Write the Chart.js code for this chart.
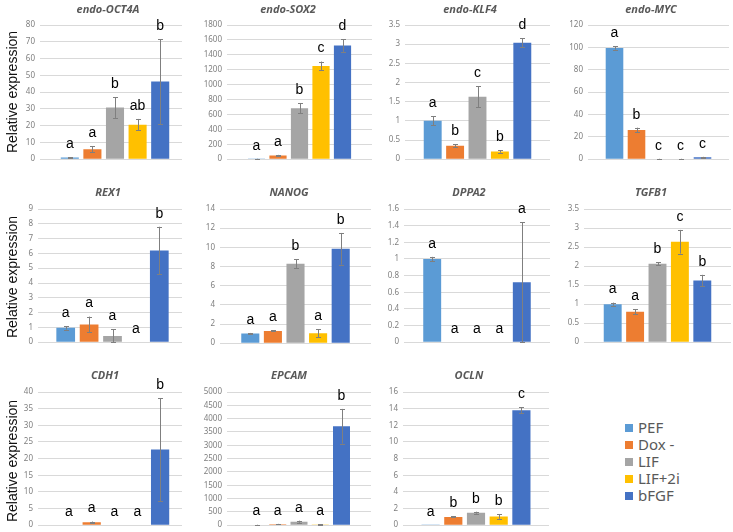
<!DOCTYPE html>
<html><head><meta charset="utf-8">
<script src="https://cdn.jsdelivr.net/npm/chart.js@4.4.1/dist/chart.umd.min.js"></script>
<style>
html,body{margin:0;padding:0;background:#fff;}
#root{position:relative;width:733px;height:532px;overflow:hidden;background:#fff;}
canvas{position:absolute;}
.title{position:absolute;font:italic bold 11px "Noto Sans",sans-serif;color:#595959;transform:translate(-50%,-50%);white-space:nowrap;z-index:5;}
.ylab{position:absolute;font:14px "Liberation Sans",Arial,sans-serif;color:#111;transform:translate(-50%,-50%) rotate(-90deg);white-space:nowrap;z-index:5;}
.leg{position:absolute;font:15px "Noto Sans",sans-serif;color:#595959;white-space:nowrap;line-height:17px;}
.sw{position:absolute;width:8px;height:8px;}
</style></head>
<body><div id="root"></div>
<script>
// ---- data ----
const conditions = ['PEF', 'Dox -', 'LIF', 'LIF+2i', 'bFGF'];
const genes = ['endo-OCT4A','endo-SOX2','endo-KLF4','endo-MYC','REX1','NANOG','DPPA2','TGFB1','CDH1','EPCAM','OCLN'];

const OCT4A_mean = [1.0, 6.0, 30.8, 20.6, 46.3];
const OCT4A_err  = [0.3, 1.7, 6.2, 3.4, 25.3];
const OCT4A_sig  = ['a','a','b','ab','b'];

const SOX2_mean = [4, 50, 684, 1250, 1525];
const SOX2_err  = [2, 8, 70, 60, 85];
const SOX2_sig  = ['a','a','b','c','d'];

const KLF4_mean = [1.0, 0.35, 1.63, 0.2, 3.04];
const KLF4_err  = [0.12, 0.04, 0.27, 0.03, 0.11];
const KLF4_sig  = ['a','b','c','b','d'];

const MYC_mean = [99.5, 26.2, 0.3, 0.3, 1.8];
const MYC_err  = [1.5, 2.0, 0.1, 0.1, 0.3];
const MYC_sig  = ['a','b','c','c','c'];

const REX1_mean = [0.97, 1.2, 0.42, 0, 6.2];
const REX1_err  = [0.12, 0.53, 0.45, 0, 1.6];
const REX1_sig  = ['a','a','a','a','b'];

const NANOG_mean = [1.0, 1.28, 8.3, 1.05, 9.85];
const NANOG_err  = [0.07, 0.05, 0.45, 0.4, 1.65];
const NANOG_sig  = ['a','a','b','a','b'];

const DPPA2_mean = [1.0, 0, 0, 0, 0.72];
const DPPA2_err  = [0.025, 0, 0, 0, 0.72];
const DPPA2_sig  = ['a','a','a','a','a'];

const TGFB1_mean = [1.0, 0.8, 2.06, 2.64, 1.62];
const TGFB1_err  = [0.04, 0.06, 0.04, 0.31, 0.15];
const TGFB1_sig  = ['a','a','b','c','b'];

const CDH1_mean = [0, 0.9, 0, 0, 22.7];
const CDH1_err  = [0, 0.2, 0, 0, 15.5];
const CDH1_sig  = ['a','a','a','a','b'];

const EPCAM_mean = [20, 40, 130, 30, 3715];
const EPCAM_err  = [5, 10, 40, 10, 650];
const EPCAM_sig  = ['a','a','a','a','b'];

const OCLN_mean = [0.01, 1.0, 1.5, 1.05, 13.8];
const OCLN_err  = [0, 0.05, 0.12, 0.28, 0.35];
const OCLN_sig  = ['a','b','b','b','c'];

const axisMax  = [80, 1800, 3.5, 120, 9, 14, 1.6, 3.5, 40, 5000, 16];
const axisStep = [10, 200, 0.5, 20, 1, 2, 0.2, 0.5, 5, 500, 2];

const means = [OCT4A_mean, SOX2_mean, KLF4_mean, MYC_mean, REX1_mean, NANOG_mean, DPPA2_mean, TGFB1_mean, CDH1_mean, EPCAM_mean, OCLN_mean];
const errs  = [OCT4A_err, SOX2_err, KLF4_err, MYC_err, REX1_err, NANOG_err, DPPA2_err, TGFB1_err, CDH1_err, EPCAM_err, OCLN_err];
const sigs  = [OCT4A_sig, SOX2_sig, KLF4_sig, MYC_sig, REX1_sig, NANOG_sig, DPPA2_sig, TGFB1_sig, CDH1_sig, EPCAM_sig, OCLN_sig];

// ---- layout / style ----
const colors = ['#5B9BD5', '#ED7D31', '#A5A5A5', '#FFC000', '#4472C4'];
// plot area [left, right, top, bottom]
const areas = [
  [40, 190, 25, 161], [227, 372, 25, 161], [405, 550, 25, 161], [588, 729, 25, 161],
  [38, 187, 209, 344], [220, 371, 209, 345], [404, 550, 209, 344], [584, 731, 209, 344],
  [38, 191, 392, 527], [227, 371, 392, 527], [403, 549, 392, 527]
];
const spacing = [22.6, 21.5, 22.4, 22, 23.4, 22.6, 22.4, 22.4, 22.8, 21.25, 22.7];
// left edge of each chart object's white box (charts overlap, like in the source sheet)
const boxLeft = [0, 182, 375, 556, 0, 182, 374, 554, 0, 182, 373];
const titlePos = [[108,8],[288,8],[470,8],[651,8],[108,191],[289,191],[469,191],[651,191],[105,374],[289,374],[469,374]];
const ylabPos = [[12,92],[12,277],[12,461]];

const root = document.getElementById('root');
const PT = 14, PB = 8;

const whiteBg = {
  id: 'whiteBg',
  beforeDraw(chart) {
    const ctx = chart.ctx;
    ctx.save();
    ctx.fillStyle = '#fff';
    ctx.fillRect(0, 0, chart.width, chart.height);
    ctx.restore();
  }
};

const errLetters = {
  id: 'errLetters',
  afterDatasetsDraw(chart) {
    const ctx = chart.ctx, ys = chart.scales.y;
    ctx.save();
    ctx.font = '14px "Liberation Sans", Arial, sans-serif';
    ctx.textAlign = 'center';
    ctx.textBaseline = 'middle';
    chart.data.datasets.forEach((ds, i) => {
      const bar = chart.getDatasetMeta(i).data[0];
      const v = ds.data[0], e = ds.err;
      const x = Math.round(bar.x) + 0.5;
      const yt = ys.getPixelForValue(v + e);
      const yb = ys.getPixelForValue(Math.max(v - e, 0));
      if (e > 0) {
        ctx.strokeStyle = '#7f7f7f';
        ctx.lineWidth = 1;
        ctx.beginPath();
        ctx.moveTo(x, yt); ctx.lineTo(x, yb);
        ctx.moveTo(x - 2.5, Math.round(yt) + 0.5); ctx.lineTo(x + 2.5, Math.round(yt) + 0.5);
        ctx.moveTo(x - 2.5, Math.round(yb) + 0.5); ctx.lineTo(x + 2.5, Math.round(yb) + 0.5);
        ctx.stroke();
      }
      ctx.fillStyle = '#000';
      ctx.fillText(ds.sig, bar.x, yt - 13);
    });
    ctx.restore();
  }
};

genes.forEach((g, k) => {
  const [l, r, t, b] = areas[k];
  const axw = l - boxLeft[k];
  const cx = boxLeft[k], cy = t - PT, cw = r - cx, ch = b + PB - cy;
  const cv = document.createElement('canvas');
  cv.width = cw; cv.height = ch;
  cv.style.left = cx + 'px'; cv.style.top = cy + 'px';
  cv.style.width = cw + 'px'; cv.style.height = ch + 'px';
  root.appendChild(cv);

  const catPct = 5 * spacing[k] / (r - l);
  new Chart(cv, {
    type: 'bar',
    data: {
      labels: [g],
      datasets: conditions.map((c, i) => ({
        label: c,
        data: [means[k][i]],
        err: errs[k][i],
        sig: sigs[k][i],
        backgroundColor: colors[i],
        borderWidth: 0,
        categoryPercentage: catPct,
        barPercentage: 0.8
      }))
    },
    options: {
      responsive: false,
      animation: false,
      devicePixelRatio: 1,
      layout: { padding: { top: PT, bottom: PB, left: 0, right: 0 } },
      plugins: { legend: { display: false }, tooltip: { enabled: false }, title: { display: false } },
      scales: {
        x: { display: false, offset: true },
        y: {
          min: 0, max: axisMax[k],
          afterFit: s => { s.width = axw; },
          ticks: {
            stepSize: axisStep[k],
            padding: 5,
            color: '#7f7f7f',
            font: { family: '"Noto Sans", sans-serif', size: 8 },
            callback: v => String(+Number(v).toFixed(2))
          },
          grid: { color: '#d9d9d9', lineWidth: 1, drawTicks: false },
          border: { display: false }
        }
      }
    },
    plugins: [whiteBg, errLetters]
  });

  const td = document.createElement('div');
  td.className = 'title';
  td.textContent = g;
  td.style.left = titlePos[k][0] + 'px';
  td.style.top = titlePos[k][1] + 'px';
  root.appendChild(td);
});

ylabPos.forEach(p => {
  const d = document.createElement('div');
  d.className = 'ylab';
  d.textContent = 'Relative expression';
  d.style.left = p[0] + 'px';
  d.style.top = p[1] + 'px';
  root.appendChild(d);
});

conditions.forEach((c, i) => {
  const yc = 428 + i * 17;
  const sw = document.createElement('div');
  sw.className = 'sw';
  sw.style.background = colors[i];
  sw.style.left = '625px';
  sw.style.top = (yc - 4) + 'px';
  root.appendChild(sw);
  const d = document.createElement('div');
  d.className = 'leg';
  d.textContent = c;
  d.style.left = '638px';
  d.style.top = (yc - 9) + 'px';
  root.appendChild(d);
});
</script>
</body></html>
